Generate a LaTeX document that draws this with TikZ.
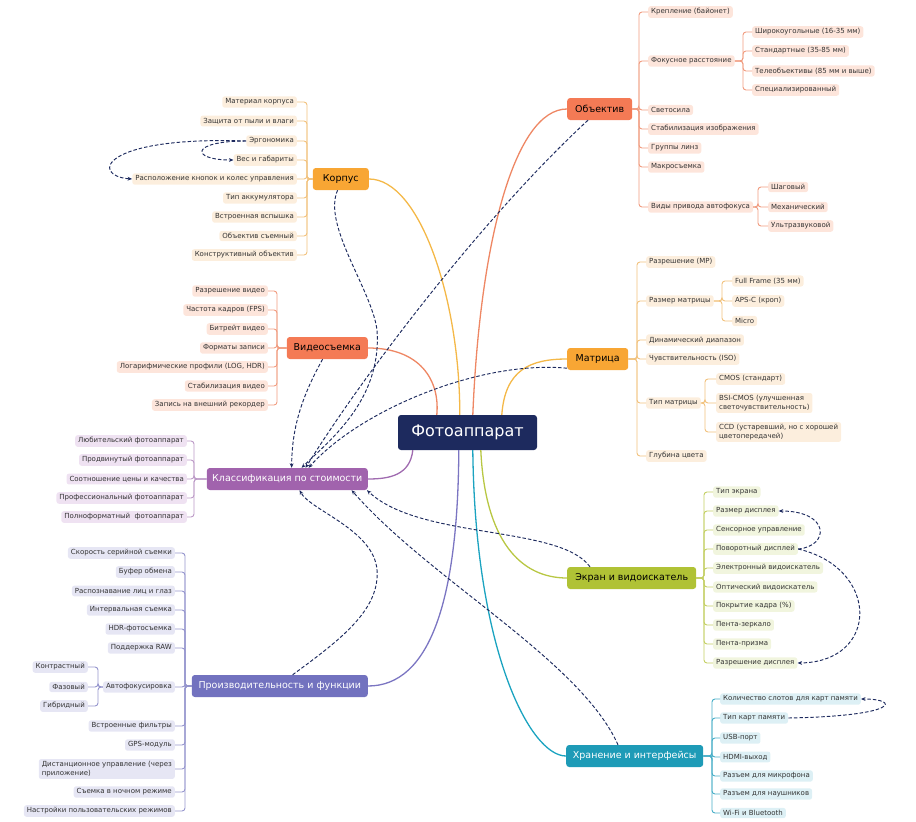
\documentclass[tikz,border=0pt]{standalone}
\usepackage{fontspec}
\setmainfont{DejaVu Sans}
\usetikzlibrary{arrows.meta}
\definecolor{navy}{HTML}{1D2A5E}
\definecolor{orgBox}{HTML}{F8A634}
\definecolor{orgLine}{HTML}{F4B848}
\definecolor{orgBr}{HTML}{F1C27E}
\definecolor{orgFill}{HTML}{FCEEDD}
\definecolor{corBox}{HTML}{F47A55}
\definecolor{corLine}{HTML}{EE8764}
\definecolor{corBr}{HTML}{F09C80}
\definecolor{corFill}{HTML}{FDE5DB}
\definecolor{purBox}{HTML}{A163AD}
\definecolor{purLine}{HTML}{A06BB0}
\definecolor{purBr}{HTML}{BC9AC7}
\definecolor{purFill}{HTML}{EFE2F2}
\definecolor{bluBox}{HTML}{7272BF}
\definecolor{bluLine}{HTML}{7B75C2}
\definecolor{bluBr}{HTML}{9595CD}
\definecolor{bluFill}{HTML}{E6E6F4}
\definecolor{grnBox}{HTML}{B0C235}
\definecolor{grnLine}{HTML}{B8C743}
\definecolor{grnBr}{HTML}{C3CF63}
\definecolor{grnFill}{HTML}{F1F5DE}
\definecolor{tealBox}{HTML}{1E9BB7}
\definecolor{tealLine}{HTML}{1BA3C0}
\definecolor{tealBr}{HTML}{48AEC7}
\definecolor{tealFill}{HTML}{DDF0F5}
\definecolor{leafText}{HTML}{333333}
\begin{document}
\begin{tikzpicture}[x=1pt,y=-1pt,
  mainbox/.style={rounded corners=3pt, minimum height=22pt, inner sep=0pt, font=\fontsize{9.5}{11}\selectfont},
  leaf/.style={rounded corners=2.5pt, inner xsep=3pt, inner ysep=2.4pt, align=left, font=\fontsize{7}{8.4}\selectfont, text=leafText},
  br/.style={line width=0.9pt, rounded corners=3pt},
  trunk/.style={line width=1.3pt},
  dep/.style={draw=navy, line width=0.95pt, dash pattern=on 3.5pt off 2pt, -{Stealth[length=4.5pt,width=3.8pt]}}
]
\useasboundingbox (0,0) rectangle (916,822);

% central and main nodes
\node[fill=navy, rounded corners=3pt, minimum width=139pt, minimum height=35pt, inner sep=0pt, text=white, font=\fontsize{16}{18}\selectfont] (foto) at (467.5,432.5) {Фотоаппарат};
\node[mainbox, fill=orgBox, minimum width=56pt, anchor=east] (korpus) at (369,179) {Корпус};
\node[mainbox, fill=corBox, minimum width=81pt, anchor=east] (video) at (368,348) {Видеосъемка};
\node[mainbox, fill=purBox, text=white, minimum width=161pt, anchor=east] (klass) at (368,479) {Классификация по стоимости};
\node[mainbox, fill=bluBox, text=white, minimum width=176pt, anchor=east] (proizv) at (368,686) {Производительность и функции};
\node[mainbox, fill=corBox, minimum width=65pt, anchor=west] (obj) at (567,109) {Объектив};
\node[mainbox, fill=orgBox, minimum width=61pt, anchor=west] (matr) at (567,359) {Матрица};
\node[mainbox, fill=grnBox, minimum width=129pt, anchor=west] (ekran) at (567,578) {Экран и видоискатель};
\node[mainbox, fill=tealBox, text=white, minimum width=137pt, anchor=west] (hran) at (566,756) {Хранение и интерфейсы};

% trunk connectors
\draw[trunk, orgLine] (korpus.east) .. controls (420,179) and (460,300) .. ([xshift=62pt]foto.north west);
\draw[trunk, corLine] (obj.west) .. controls (515,109) and (480,240) .. ([xshift=75pt]foto.north west);
\draw[trunk, corLine] (video.east) .. controls (420,348) and (440,380) .. ([xshift=39pt]foto.north west);
\draw[trunk, orgLine] (matr.west) .. controls (530,359) and (505,370) .. ([xshift=104pt]foto.north west);
\draw[trunk, purLine] (klass.east) .. controls (390,479) and (410,475) .. ([xshift=15pt]foto.south west);
\draw[trunk, bluLine] (proizv.east) .. controls (430,686) and (458,600) .. ([xshift=61pt]foto.south west);
\draw[trunk, grnLine] (ekran.west) .. controls (520,578) and (485,540) .. ([xshift=83pt]foto.south west);
\draw[trunk, tealLine] (hran.west) .. controls (530,756) and (475,650) .. ([xshift=75pt]foto.south west);

% Korpus
\foreach \nm/\yy/\tx in {k1/102/Материал корпуса, k2/121/Защита от пыли и влаги, k3/141/Эргономика, k4/160/Вес и габариты, k5/179/Расположение кнопок и колес управления, k6/198/Тип аккумулятора, k7/217/Встроенная вспышка, k8/236/Объектив съемный, k9/255/Конструктивный объектив}{
  \node[leaf, fill=orgFill, anchor=east] (\nm) at (297,\yy) {\tx};
  \draw[br, orgBr] (korpus.west) -- (307,179) |- (\nm.east);
}
% Video
\foreach \nm/\yy/\tx in {v1/291/Разрешение видео, v2/310/Частота кадров (FPS), v3/329/Битрейт видео, v4/348/Форматы записи, v5/367/{Логарифмические профили (LOG, HDR)}, v6/386/Стабилизация видео, v7/405/Запись на внешний рекордер}{
  \node[leaf, fill=corFill, anchor=east] (\nm) at (268,\yy) {\tx};
  \draw[br, corBr] (video.west) -- (277,348) |- (\nm.east);
}
% Klass
\foreach \nm/\yy/\tx in {c1/441/Любительский фотоаппарат, c2/460/Продвинутый фотоаппарат, c3/479/Соотношение цены и качества, c4/498/Профессиональный фотоаппарат, c5/517/Полноформатный\ \ фотоаппарат}{
  \node[leaf, fill=purFill, anchor=east] (\nm) at (187,\yy) {\tx};
  \draw[br, purBr] (klass.west) -- (194,479) |- (\nm.east);
}
% Proizv
\foreach \nm/\yy/\tx in {p1/553/Скорость серийной съемки, p2/572/Буфер обмена, p3/591/Распознавание лиц и глаз, p4/610/Интервальная съемка, p5/629/HDR-фотосъемка, p6/648/Поддержка RAW, af/687/Автофокусировка, p8/726/Встроенные фильтры, p9/745/GPS-модуль, p10/769/{Дистанционное управление (через\\приложение)}, p11/792/Съемка в ночном режиме, p12/811/Настройки пользовательских режимов}{
  \node[leaf, fill=bluFill, anchor=east] (\nm) at (175,\yy) {\tx};
  \draw[br, bluBr] (proizv.west) -- (185,686) |- (\nm.east);
}
\foreach \nm/\yy/\tx in {a1/667/Контрастный, a2/687/Фазовый, a3/706/Гибридный}{
  \node[leaf, fill=bluFill, anchor=east] (\nm) at (88,\yy) {\tx};
  \draw[br, bluBr] (af.west) -- (98,687) |- (\nm.east);
}
% Objektiv
\foreach \nm/\yy/\tx in {o1/12/Крепление (байонет), fok/61/Фокусное расстояние, o3/110/Светосила, o4/129/Стабилизация изображения, o5/148/Группы линз, o6/167/Макросъемка, priv/207/Виды привода автофокуса}{
  \node[leaf, fill=corFill, anchor=west] (\nm) at (648,\yy) {\tx};
  \draw[br, corBr] (obj.east) -- (639,109) |- (\nm.west);
}
\foreach \nm/\yy/\tx in {f1/32/Широкоугольные (16-35 мм), f2/51/Стандартные (35-85 мм), f3/71/Телеобъективы (85 мм и выше), f4/90/Специализированный}{
  \node[leaf, fill=corFill, anchor=west] (\nm) at (752,\yy) {\tx};
  \draw[br, corBr] (fok.east) -- (743,61) |- (\nm.west);
}
\foreach \nm/\yy/\tx in {d1/187/Шаговый, d2/207/Механический, d3/226/Ультразвуковой}{
  \node[leaf, fill=corFill, anchor=west] (\nm) at (768,\yy) {\tx};
  \draw[br, corBr] (priv.east) -- (758,207) |- (\nm.west);
}
% Matrica
\foreach \nm/\yy/\tx in {m1/262/Разрешение (MP), msz/301/Размер матрицы, m3/340/Динамический диапазон, m4/359/Чувствительность (ISO), mtp/403/Тип матрицы, m6/456/Глубина цвета}{
  \node[leaf, fill=orgFill, anchor=west] (\nm) at (646,\yy) {\tx};
  \draw[br, orgBr] (matr.east) -- (637,359) |- (\nm.west);
}
\foreach \nm/\yy/\tx in {s1/281/Full Frame (35 мм), s2/301/APS-C (кроп), s3/321/Micro}{
  \node[leaf, fill=orgFill, anchor=west] (\nm) at (732,\yy) {\tx};
  \draw[br, orgBr] (msz.east) -- (722,301) |- (\nm.west);
}
\foreach \nm/\yy/\tx in {t1/379/CMOS (стандарт), t2/403/{BSI-CMOS (улучшенная\\светочувствительность)}, t3/432/{CCD (устаревший, но с хорошей\\цветопередачей)}}{
  \node[leaf, fill=orgFill, anchor=west] (\nm) at (716,\yy) {\tx};
  \draw[br, orgBr] (mtp.east) -- (705,403) |- (\nm.west);
}
% Ekran
\foreach \nm/\yy/\tx in {e1/492/Тип экрана, e2/511/Размер дисплея, e3/530/Сенсорное управление, e4/549/Поворотный дисплей, e5/568/Электронный видоискатель, e6/587/Оптический видоискатель, e7/606/Покрытие кадра (\%), e8/625/Пента-зеркало, e9/644/Пента-призма, e10/663/Разрешение дисплея}{
  \node[leaf, fill=grnFill, anchor=west] (\nm) at (713,\yy) {\tx};
  \draw[br, grnBr] (ekran.east) -- (704,578) |- (\nm.west);
}
% Hranenie
\foreach \nm/\yy/\tx in {h1/699/Количество слотов для карт памяти, h2/718/Тип карт памяти, h3/738/USB-порт, h4/757/HDMI-выход, h5/776/Разъем для микрофона, h6/794/Разъем для наушников, h7/813/Wi-Fi и Bluetooth}{
  \node[leaf, fill=tealFill, anchor=west] (\nm) at (720,\yy) {\tx};
  \draw[br, tealBr] (hran.east) -- (712,756) |- (\nm.west);
}

% dashed relations
\draw[dep] ([xshift=36pt]video.south west) .. controls (300,400) and (292,430) .. ([xshift=85pt]klass.north west);
\draw[dep] ([xshift=25pt]korpus.south west) .. controls (322,225) and (372,290) .. (377,330) .. controls (382,400) and (330,440) .. ([xshift=95pt]klass.north west);
\draw[dep] ([xshift=21pt]obj.south west) .. controls (480,220) and (360,380) .. ([xshift=99pt]klass.north west);
\draw[dep] ([yshift=2pt]matr.south west) .. controls (480,360) and (360,410) .. ([xshift=102pt]klass.north west);
\draw[dep] ([xshift=101pt]proizv.north west) .. controls (340,640) and (380,610) .. (377,570) .. controls (374,530) and (310,510) .. ([xshift=93pt]klass.south west);
\draw[dep] ([xshift=52pt]hran.north west) .. controls (580,660) and (430,580) .. ([xshift=145pt]klass.south west);
\draw[dep] ([xshift=23pt]ekran.north west) .. controls (560,525) and (420,540) .. ([xshift=-1pt]klass.south east);
\draw[dep] (k3.west) .. controls (190,141) and (190,160) .. (k4.west);
\draw[dep] (k3.west) .. controls (100,136) and (90,176) .. (k5.west);
\draw[dep] (e4.east) .. controls (830,546) and (830,511) .. (e2.east);
\draw[dep] (e4.east) .. controls (880,568) and (880,662) .. (e10.east);
\draw[dep] (h2.east) .. controls (900,716) and (900,699) .. (h1.east);
\end{tikzpicture}
\end{document}
